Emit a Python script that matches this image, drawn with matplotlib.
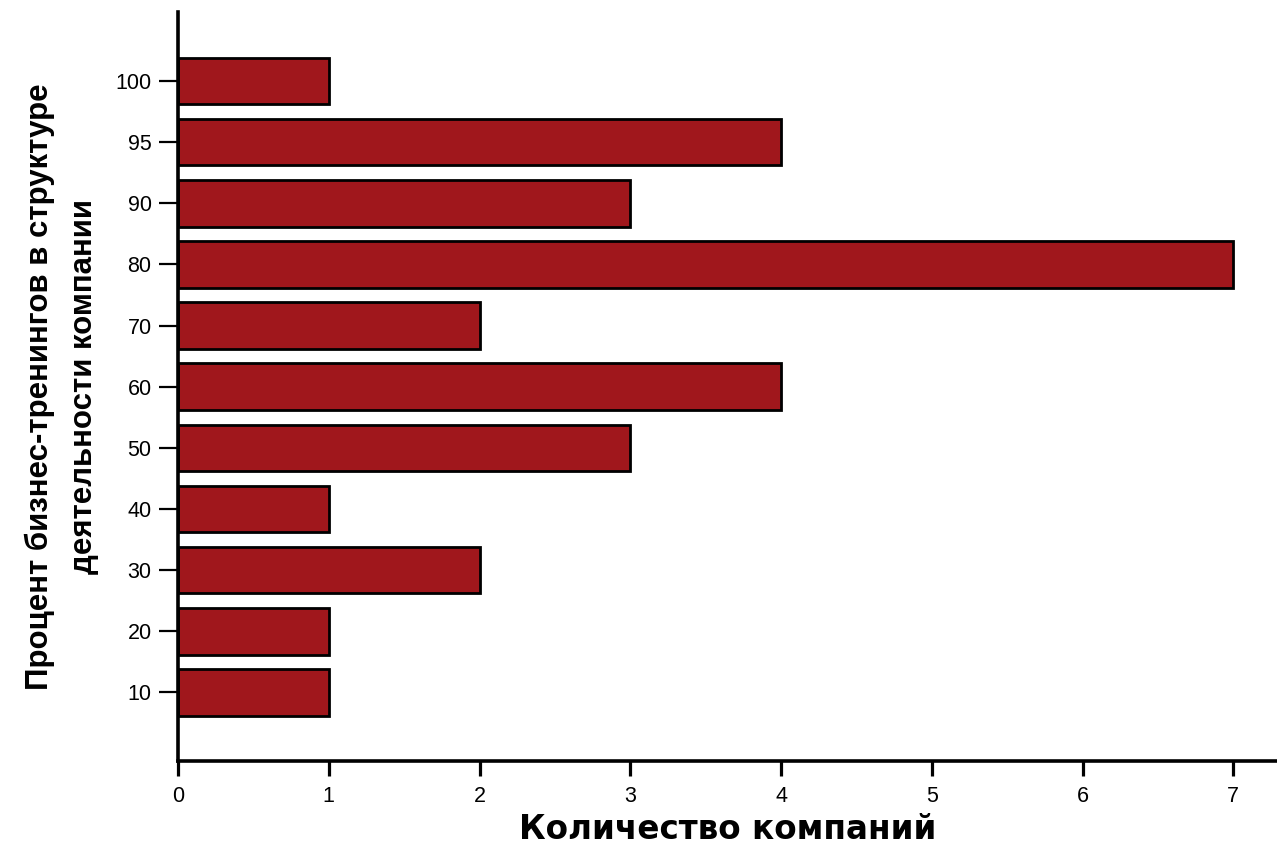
import matplotlib.pyplot as plt

categories = ['10', '20', '30', '40', '50', '60', '70', '80', '90', '95', '100']
companies = [1, 1, 2, 1, 3, 4, 2, 7, 3, 4, 1]

plt.rcParams['font.family'] = ['Liberation Sans', 'DejaVu Sans']

fig = plt.figure(figsize=(12.77, 8.49), dpi=100)
ax = fig.add_axes([0.1394, 0.1037, 0.8606, 0.8823])

ypos = list(range(len(categories)))
ax.barh(ypos, companies, height=0.76, color='#A0171C', edgecolor='black', linewidth=2.0)

ax.set_xlim(0, 7.29)
ax.set_ylim(-1.12, 11.13)
ax.set_yticks(ypos)
ax.set_yticklabels(categories)
ax.set_xticks(range(8))

for s in ['top', 'right']:
    ax.spines[s].set_visible(False)
for s in ['left', 'bottom']:
    ax.spines[s].set_linewidth(2.6)

ax.tick_params(axis='y', length=14, width=1.6, pad=5, labelsize=15.5)
ax.tick_params(axis='x', length=11, width=2.3, pad=7, labelsize=15.5)

ax.set_xlabel('Количество компаний', fontsize=23.5, fontweight='bold', family='DejaVu Sans', labelpad=4)
ax.set_ylabel('Процент бизнес-тренингов в структуре\nдеятельности компании', fontsize=22.5,
              fontweight='bold', linespacing=1.6, labelpad=12)

fig.savefig('out.png', dpi=100)
